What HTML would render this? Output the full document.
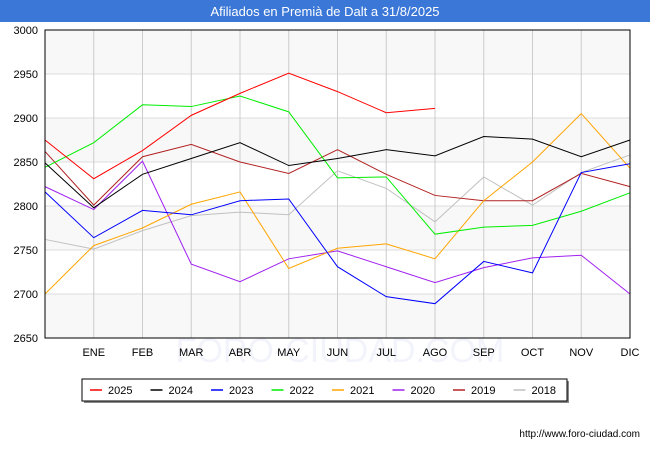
<!DOCTYPE html>
<html><head><meta charset="utf-8"><style>
body{margin:0;width:650px;height:450px;background:#fff;font-family:"Liberation Sans",sans-serif;overflow:hidden}
</style></head><body>
<svg id="c" width="650" height="450" xmlns="http://www.w3.org/2000/svg">
<rect x="0" y="0" width="650" height="22" fill="#3a77d6"/>
<text x="325" y="16" text-anchor="middle" fill="#fff" font-size="13">Afiliados en Premià de Dalt a 31/8/2025</text>
<g id="plot"></g>
<text x="640" y="437" text-anchor="end" font-size="10" fill="#000">http://www.foro-ciudad.com</text>
</svg>
<script>
const months=["","ENE","FEB","MAR","ABR","MAY","JUN","JUL","AGO","SEP","OCT","NOV","DIC"];
const yTicks=[2650,2700,2750,2800,2850,2900,2950,3000];
const seriesNames=["2025","2024","2023","2022","2021","2020","2019","2018"];
const seriesColors=["#ff0000","#000000","#0000ff","#00ee00","#ffa500","#a020f0","#b22222","#c0c0c0"];
const s2025=[2875,2831,2863,2903,2928,2951,2930,2906,2911];
const s2024=[2849,2798,2836,2854,2872,2846,2854,2864,2857,2879,2876,2856,2875];
const s2023=[2816,2764,2795,2790,2806,2808,2731,2697,2689,2737,2724,2838,2848];
const s2022=[2844,2872,2915,2913,2925,2907,2832,2833,2768,2776,2778,2794,2815];
const s2021=[2700,2755,2775,2802,2816,2729,2752,2757,2740,2806,2850,2905,2843];
const s2020=[2822,2796,2851,2734,2714,2740,2749,2731,2713,2730,2741,2744,2700];
const s2019=[2862,2801,2856,2870,2850,2837,2864,2836,2812,2806,2806,2837,2822];
const s2018=[2762,2751,2772,2789,2793,2790,2840,2820,2782,2833,2801,2838,2858];
const allSeries=[s2025,s2024,s2023,s2022,s2021,s2020,s2019,s2018];
const L=45,R=630,T=30,B=338,ymin=2650,ymax=3000;
const X=i=>L+i*(R-L)/12;
const Y=v=>B-(v-ymin)*(B-T)/(ymax-ymin);
const NS="http://www.w3.org/2000/svg";
const g=document.getElementById('plot');
function mk(t,a,p){const e=document.createElementNS(NS,t);for(const k in a)e.setAttribute(k,a[k]);(p||g).appendChild(e);return e;}
for(let i=0;i<yTicks.length-1;i++){
 const band=mk('rect',{x:L,y:Y(yTicks[i+1]),width:R-L,height:Y(yTicks[i])-Y(yTicks[i+1]),fill:(yTicks.length-2-i)%2===0?'#f8f8f8':'#ffffff'});
 
 
}
yTicks.forEach(v=>{
 const l=mk('line',{x1:L,x2:R,y1:Y(v),y2:Y(v),stroke:'#dddddd','stroke-width':1});
 
 
 const t=mk('text',{x:L-7,y:Y(v)+4,'text-anchor':'end','font-size':11,fill:'#000'});
 t.textContent=v;
 
 
});
const wm=mk('text',{x:340,y:362,'text-anchor':'middle','font-size':34,fill:'#f3f4fb'});
wm.textContent='FORO-CIUDAD.COM';


months.forEach((m,i)=>{
 if(i>0){
 const l=mk('line',{x1:X(i),x2:X(i),y1:T,y2:B,stroke:'#cccccc','stroke-width':1});
 
 
 }
 const t=mk('text',{x:X(i),y:B+18,'text-anchor':'middle','font-size':11,fill:'#000'});
 t.textContent=m;
 
 
});
for(let s=allSeries.length-1;s>=0;s--){
 const pts=allSeries[s].map((v,i)=>X(i)+','+Y(v)).join(' ');
 const pl=mk('polyline',{points:pts,fill:'none',stroke:seriesColors[s],'stroke-width':1});
 
 
}
const fr=mk('rect',{x:L,y:T,width:R-L,height:B-T,fill:'none',stroke:'#000','stroke-width':1});


const lg=mk('g',{});


mk('rect',{x:84,y:381,width:485,height:22,fill:'#888'},lg);
mk('rect',{x:82,y:379,width:485,height:22,fill:'#fff',stroke:'#000','stroke-width':1},lg);
seriesNames.forEach((n,i)=>{
 const x=90+i*60.5;
 const e=mk('g',{},lg);
 
 
 mk('line',{x1:x,x2:x+12,y1:390,y2:390,stroke:seriesColors[i],'stroke-width':1.5},e);
 const t=mk('text',{x:x+18,y:394,'font-size':11,fill:'#000'},e);
 t.textContent=n;
});
</script>
</body></html>
